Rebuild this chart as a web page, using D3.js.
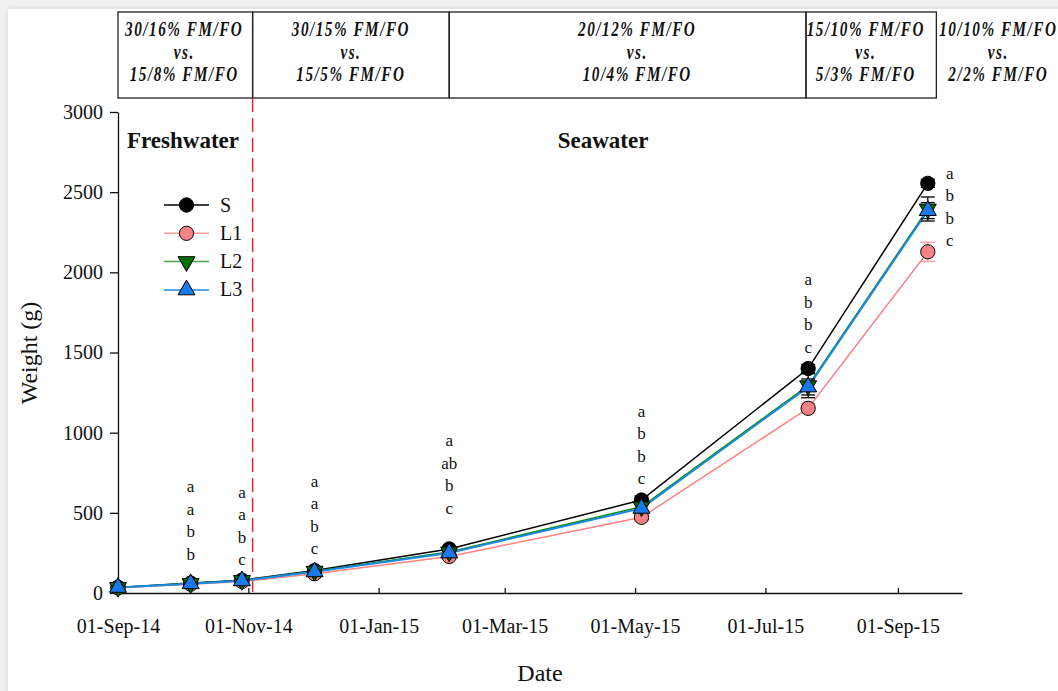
<!DOCTYPE html>
<html>
<head>
<meta charset="utf-8">
<script src="https://cdn.jsdelivr.net/npm/d3@7"></script>
<style>
  html, body { margin: 0; padding: 0; background: #f1f1f1; }
  svg { display: block; }
  text { font-family: "Liberation Serif", "Times New Roman", serif; fill: #111; }
</style>
</head>
<body>
<svg id="chart" width="1058" height="691"></svg>
<script>
// Sampling dates
const sampleDates = ["2014-09-01", "2014-10-05", "2014-10-29", "2014-12-02",
                     "2015-02-03", "2015-05-04", "2015-07-21", "2015-09-15"];

// Mean body weight (g) per group
const weightS  = [35, 62, 80, 140, 275, 580, 1400, 2555];
const weightL1 = [33, 55, 72, 120, 228, 472, 1152, 2128];
const weightL2 = [35, 59, 78, 136, 256, 538, 1293, 2395];
const weightL3 = [35, 58, 76, 132, 250, 528, 1285, 2385];

// Error (g)
const errS  = [3, 5, 6, 10, 15, 25, 25, 25];
const errL1 = [3, 5, 6, 10, 15, 20, 30, 60];
const errL2 = [3, 5, 6, 10, 15, 25, 75, 75];
const errL3 = [3, 5, 6, 10, 15, 25, 50, 50];

const seriesNames = ["S", "L1", "L2", "L3"];

// Significance letters per sampling (S, L1, L2, L3 order top-down)
const sigLetters = [
  [],
  ["a", "a", "b", "b"],
  ["a", "a", "b", "c"],
  ["a", "a", "b", "c"],
  ["a", "ab", "b", "c"],
  ["a", "b", "b", "c"],
  ["a", "b", "b", "c"],
  ["a", "b", "b", "c"]
];
// Weight level of the top letter of each stack
const sigTop = [null, 660, 625, 695, 945, 1130, 1950, 2615];

// Diet periods shown above the chart
const periodEdges = ["2014-09-01", "2014-11-03", "2015-02-03", "2015-07-20", "2015-09-19"];
const periodCentres = ["2014-10-02", "2014-12-19", "2015-05-02", "2015-08-17", "2015-10-18"];
const periodLines = [
  ["30/16% FM/FO", "vs.", "15/8% FM/FO"],
  ["30/15% FM/FO", "vs.", "15/5% FM/FO"],
  ["20/12% FM/FO", "vs.", "10/4% FM/FO"],
  ["15/10% FM/FO", "vs.", "5/3% FM/FO"],
  ["10/10% FM/FO", "vs.", "2/2% FM/FO"]
];

const seaTransfer = "2014-11-03";
const xTickDates = ["2014-09-01", "2014-11-01", "2015-01-01", "2015-03-01",
                    "2015-05-01", "2015-07-01", "2015-09-01"];
const yTicks = [0, 500, 1000, 1500, 2000, 2500, 3000];
const xDomain = ["2014-09-01", "2015-10-01"];

const parse = d3.utcParse("%Y-%m-%d");
const fmt = d3.utcFormat("%d-%b-%y");

const svg = d3.select("#chart");

// page card
const defs = svg.append("defs");
const sh = defs.append("filter").attr("id", "shadow").attr("x", "-5%").attr("y", "-5%")
  .attr("width", "110%").attr("height", "110%");
sh.append("feDropShadow").attr("dx", 0).attr("dy", 0).attr("stdDeviation", 2.5)
  .attr("flood-color", "#000").attr("flood-opacity", 0.12);
svg.append("rect").attr("x", 0).attr("y", 0).attr("width", 1058).attr("height", 691).attr("fill", "#f1f1f1");
svg.append("rect").attr("x", 8).attr("y", 9).attr("width", 1060).attr("height", 700)
  .attr("fill", "#fff").attr("filter", "url(#shadow)");

const x = d3.scaleUtc().domain(xDomain.map(parse)).range([118, 962]);
const y = d3.scaleLinear().domain([0, 3000]).range([593, 112]);

// ---- period boxes ----
const boxTop = 12, boxBottom = 98;
const boxes = svg.append("g");
for (let i = 0; i < periodEdges.length - 1; i++) {
  boxes.append("rect")
    .attr("x", x(parse(periodEdges[i])))
    .attr("y", boxTop)
    .attr("width", x(parse(periodEdges[i + 1])) - x(parse(periodEdges[i])))
    .attr("height", boxBottom - boxTop)
    .attr("fill", "none").attr("stroke", "#222").attr("stroke-width", 1.3);
}
periodLines.forEach((lines, i) => {
  const cx = x(parse(periodCentres[i]));
  lines.forEach((t, j) => {
    svg.append("text")
      .attr("transform", `translate(${cx},${36 + j * 22.5}) scale(0.76,1)`)
      .attr("text-anchor", "middle")
      .style("font-size", "20px").style("font-weight", "bold").style("font-style", "italic")
      .style("letter-spacing", "2px")
      .text(t);
  });
});

// ---- freshwater / seawater transfer ----
svg.append("line")
  .attr("x1", x(parse(seaTransfer))).attr("x2", x(parse(seaTransfer)))
  .attr("y1", boxBottom).attr("y2", y(0))
  .attr("stroke", "#e3262e").attr("stroke-width", 1.5).attr("stroke-dasharray", "14,6");

svg.append("text").attr("x", 127).attr("y", 148)
  .style("font-size", "23px").style("font-weight", "bold").text("Freshwater");
svg.append("text").attr("x", 603).attr("y", 148).attr("text-anchor", "middle")
  .style("font-size", "23px").style("font-weight", "bold").text("Seawater");

// ---- axes ----
const xAxis = d3.axisBottom(x).tickValues(xTickDates.map(parse)).tickFormat(fmt)
  .tickSizeInner(-5).tickSizeOuter(0).tickPadding(26);
const gx = svg.append("g").attr("transform", `translate(0,${y(0)})`).call(xAxis);
gx.select(".domain").attr("stroke", "#111").attr("stroke-width", 1.3);
gx.selectAll(".tick line").attr("stroke", "#111").attr("stroke-width", 1.3);
gx.selectAll(".tick text").style("font-size", "20px")
  .style("font-family", "'Liberation Serif', serif").attr("fill", "#111");

const yAxis = d3.axisLeft(y).tickValues(yTicks).tickFormat(d3.format("d"))
  .tickSizeInner(8).tickSizeOuter(0).tickPadding(7);
const gy = svg.append("g").attr("transform", `translate(${x(parse(xDomain[0]))},0)`).call(yAxis);
gy.select(".domain").attr("stroke", "#111").attr("stroke-width", 1.3);
gy.selectAll(".tick line").attr("stroke", "#111").attr("stroke-width", 1.3);
gy.selectAll(".tick text").style("font-size", "20px")
  .style("font-family", "'Liberation Serif', serif").attr("fill", "#111");

svg.append("text").attr("transform", "translate(37,353) rotate(-90)")
  .attr("text-anchor", "middle").style("font-size", "24px").text("Weight (g)");
svg.append("text").attr("x", 540).attr("y", 681)
  .attr("text-anchor", "middle").style("font-size", "24px").text("Date");

// ---- series ----
const styles = {
  S:  { values: weightS,  err: errS,  line: "#000000", fill: "#000000", bar: "#000000", shape: d3.symbolCircle,   w: 1.5 },
  L1: { values: weightL1, err: errL1, line: "#ff8080", fill: "#f58383", bar: "#ff9a9a", shape: d3.symbolCircle,   w: 1.5 },
  L2: { values: weightL2, err: errL2, line: "#0a8a0a", fill: "#006f00", bar: "#000000", shape: d3.symbolTriangle, w: 1.5, flip: true },
  L3: { values: weightL3, err: errL3, line: "#1a8ae6", fill: "#1979ec", bar: "#000000", shape: d3.symbolTriangle, w: 2 }
};

const dates = sampleDates.map(parse);
const lineGen = d3.line().x((d, i) => x(dates[i])).y(d => y(d));

seriesNames.forEach(name => {
  const s = styles[name];
  svg.append("path").datum(s.values).attr("d", lineGen)
    .attr("fill", "none").attr("stroke", s.line).attr("stroke-width", s.w);
});

// error bars
seriesNames.forEach(name => {
  const s = styles[name];
  const g = svg.append("g").attr("stroke", s.bar).attr("stroke-width", 1.3);
  s.values.forEach((v, i) => {
    const cx = x(dates[i]);
    const hi = y(v + s.err[i]), lo = y(v - s.err[i]);
    g.append("line").attr("x1", cx).attr("x2", cx).attr("y1", hi).attr("y2", lo);
    g.append("line").attr("x1", cx - 7).attr("x2", cx + 7).attr("y1", hi).attr("y2", hi);
    g.append("line").attr("x1", cx - 7).attr("x2", cx + 7).attr("y1", lo).attr("y2", lo);
  });
});

function marker(sel, name, cx, cy) {
  const s = styles[name];
  const size = s.shape === d3.symbolCircle ? 160 : 125;
  sel.append("path")
    .attr("d", d3.symbol().type(s.shape).size(size)())
    .attr("transform", `translate(${cx},${cy})${s.flip ? " rotate(180)" : ""}`)
    .attr("fill", s.fill).attr("stroke", "#000").attr("stroke-width", 1);
}

seriesNames.forEach(name => {
  const s = styles[name];
  const g = svg.append("g");
  s.values.forEach((v, i) => marker(g, name, x(dates[i]), y(v)));
});

// significance letters
const lastShift = 22;
sigLetters.forEach((letters, i) => {
  if (!letters.length) return;
  const cx = x(dates[i]) + (i === sigLetters.length - 1 ? lastShift : 0);
  const top = y(sigTop[i]);
  letters.forEach((t, j) => {
    svg.append("text").attr("x", cx).attr("y", top + j * 22.5 + 5)
      .attr("text-anchor", "middle").style("font-size", "17px").text(t);
  });
});

// legend
const lg = svg.append("g");
seriesNames.forEach((name, i) => {
  const s = styles[name];
  const ly = 205 + i * 28.3;
  lg.append("line").attr("x1", 164).attr("x2", 209).attr("y1", ly).attr("y2", ly)
    .attr("stroke", s.line).attr("stroke-width", s.w).attr("stroke-opacity", name === "S" ? 1 : 0.75);
  marker(lg, name, 186.5, ly);
  lg.append("text").attr("x", 220).attr("y", ly + 6.5).style("font-size", "20px").text(name);
});
</script>
</body>
</html>
